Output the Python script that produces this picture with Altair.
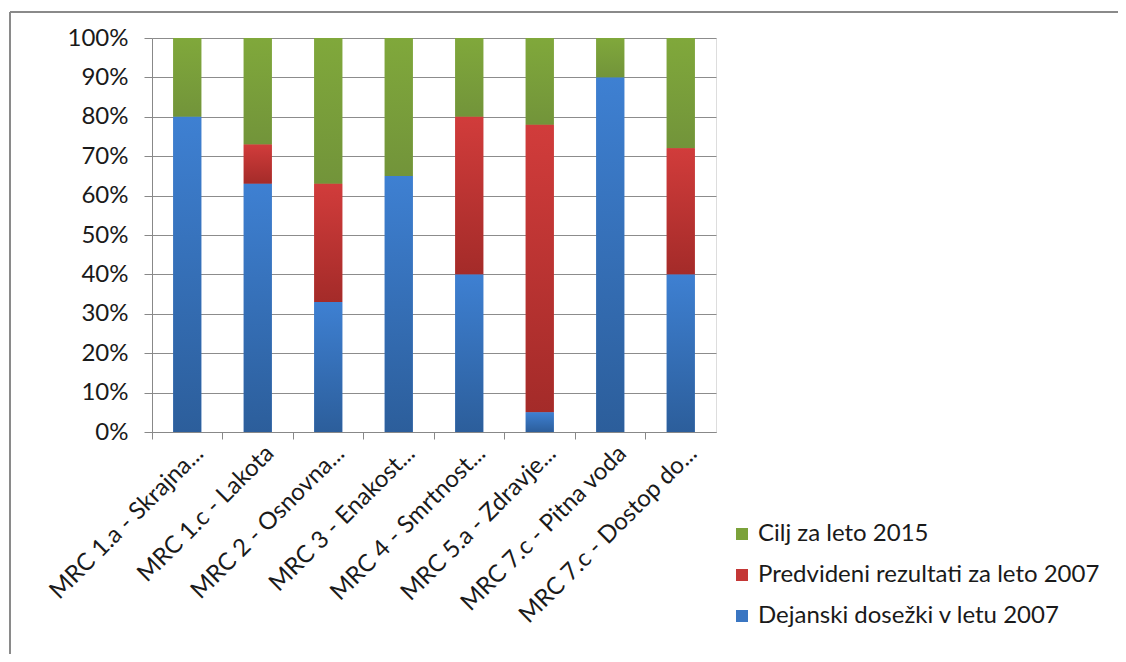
import altair as alt
import pandas as pd

categories = [
    "MRC 1.a - Skrajna...",
    "MRC 1.c - Lakota",
    "MRC 2 - Osnovna...",
    "MRC 3 - Enakost...",
    "MRC 4 - Smrtnost...",
    "MRC 5.a - Zdravje...",
    "MRC 7.c - Pitna voda",
    "MRC 7.c - Dostop do...",
]
series = ["Cilj za leto 2015", "Predvideni rezultati za leto 2007", "Dejanski dosežki v letu 2007"]
dejanski = [80, 63, 33, 65, 40, 5, 90, 40]
predvideni = [0, 10, 30, 0, 40, 73, 0, 32]
cilj = [20, 27, 37, 35, 20, 22, 10, 28]
colors = ["#7ba23a", "#c43736", "#3a76c2"]
grad_top = ["#80a83b", "#d13c3b", "#3e80d2"]
grad_bot = ["#72943a", "#a42b29", "#2c5e9b"]
y_ticks = [0, 0.1, 0.2, 0.3, 0.4, 0.5, 0.6, 0.7, 0.8, 0.9, 1.0]

rows = []
for i, c in enumerate(categories):
    rows.append({"cat": c, "series": series[2], "val": dejanski[i] / 100, "ord": 0})
    rows.append({"cat": c, "series": series[1], "val": predvideni[i] / 100, "ord": 1})
    rows.append({"cat": c, "series": series[0], "val": cilj[i] / 100, "ord": 2})
df = pd.DataFrame(rows)

FONT = "Lato"
LBL = "#1a1a1a"
AX = "#888888"

x_axis = alt.Axis(bandPosition=0, labelAngle=-45, labelAlign="right",
                  labelBaseline="top", labelOffset=4, labelPadding=2,
                  tickSize=7, tickColor=AX, domainColor=AX,
                  labelFontSize=24, labelColor=LBL, labelFont=FONT,
                  grid=False, labelLimit=500, labelOverlap=False)
y_axis = alt.Axis(values=y_ticks, format=".0%", tickSize=8, labelPadding=16,
                  tickColor=AX, domainColor=AX,
                  gridColor="#8c8c8c", gridWidth=1, labelOverlap=False,
                  labelFontSize=24, labelColor=LBL, labelFont=FONT)
x_scale = alt.Scale(paddingInner=0, paddingOuter=0)
y_scale = alt.Scale(domain=[0, 1], nice=False)

base = alt.Chart(df).mark_bar(size=28).encode(
    x=alt.X("cat:N", sort=categories, title=None, scale=x_scale, axis=x_axis),
    y=alt.Y("val:Q", stack="zero", title=None, scale=y_scale, axis=y_axis),
    color=alt.Color("series:N", scale=alt.Scale(domain=series, range=colors),
                    legend=alt.Legend(title=None, orient="none", legendX=578, legendY=484,
                                      symbolType="square", symbolSize=144,
                                      symbolStrokeWidth=0, labelFontSize=24,
                                      labelFont=FONT, labelColor=LBL,
                                      rowPadding=17, labelOffset=4, labelLimit=600)),
    order=alt.Order("ord:Q", sort="ascending"),
)

layers = [base]
for k, s in enumerate(series):
    grad = {
        "gradient": "linear", "x1": 0, "y1": 0, "x2": 0, "y2": 1,
        "stops": [{"offset": 0, "color": grad_top[k]}, {"offset": 1, "color": grad_bot[k]}],
    }
    layers.append(
        alt.Chart(df).transform_stack(
            stack="val", groupby=["cat"], as_=["y0", "y1"],
            sort=[alt.SortField("ord", order="ascending")],
        ).transform_filter(
            (alt.datum.series == s) & (alt.datum.val > 0)
        ).mark_bar(size=28, fill=grad).encode(
            x=alt.X("cat:N", sort=categories, title=None, scale=x_scale, axis=x_axis),
            y=alt.Y("y0:Q", title=None, scale=y_scale, axis=y_axis),
            y2="y1:Q",
        )
    )

frame_v = alt.Chart(df).mark_rule(color="#8a8a8a", strokeWidth=1.5).encode(
    x=alt.value(-142), y=alt.value(-26), y2=alt.value(640))
frame_h = alt.Chart(df).mark_rule(color="#8a8a8a", strokeWidth=1.5).encode(
    x=alt.value(-142), x2=alt.value(968), y=alt.value(-26))
layers += [frame_v, frame_h]

chart = alt.layer(*layers).properties(
    width=564, height=394,
    autosize=alt.AutoSizeParams(type="none"),
    padding={"left": 144, "top": 30, "right": 402, "bottom": 222},
).configure_view(strokeWidth=0).configure(font=FONT)

chart.save("out.html", embed_options={"renderer": "svg", "actions": False})
